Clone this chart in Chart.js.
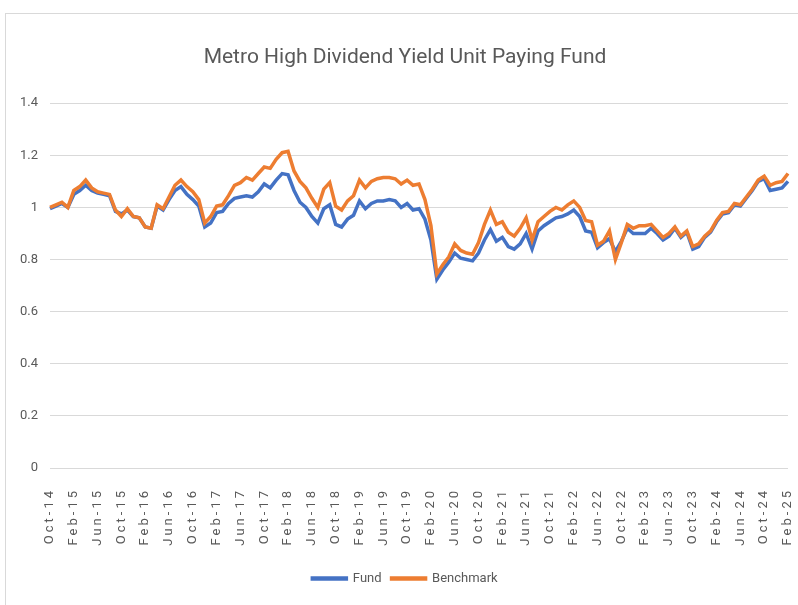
<!DOCTYPE html>
<html lang="en">
<head>
<meta charset="UTF-8">
<title>Metro High Dividend Yield Unit Paying Fund</title>
<style>
    html, body { margin: 0; padding: 0; background: #fff; overflow: hidden; }
    .frame { position: absolute; left: 5px; top: 13px; width: 820px; height: 620px; border: 1px solid #d9d9d9; }
    .wrap { position: absolute; left: 0; top: 0; width: 798px; height: 605px; }
</style>
</head>
<body>
<div class="frame"></div>
<div class="wrap"><canvas id="myChart"></canvas></div>

<script src="https://cdn.jsdelivr.net/npm/chart.js@4.4.1/dist/chart.umd.min.js"></script>
<script>
    // monthly values, Oct-14 .. Feb-25
    var startYear = 2014;
    var startMonth = 9;
    var monthNames = ['Jan','Feb','Mar','Apr','May','Jun','Jul','Aug','Sep','Oct','Nov','Dec'];

    var fund = [
        0.995, 1.005, 1.015, 1.00, 1.05, 1.065, 1.085, 1.065, 1.055, 1.05,
        1.045, 0.985, 0.975, 0.99, 0.965, 0.96, 0.925, 0.92, 1.005, 0.99,
        1.03, 1.065, 1.08, 1.05, 1.03, 1.005, 0.925, 0.94, 0.98, 0.985,
        1.015, 1.035, 1.04, 1.045, 1.04, 1.06, 1.09, 1.075, 1.105, 1.13,
        1.125, 1.065, 1.02, 1.00, 0.965, 0.94, 0.995, 1.01, 0.935, 0.925,
        0.955, 0.97, 1.025, 0.995, 1.015, 1.025, 1.025, 1.03, 1.025, 1.00,
        1.015, 0.99, 0.995, 0.955, 0.875, 0.725, 0.76, 0.79, 0.825, 0.805,
        0.80, 0.795, 0.825, 0.875, 0.915, 0.87, 0.885, 0.85, 0.84, 0.86,
        0.90, 0.84, 0.91, 0.93, 0.945, 0.96, 0.965, 0.975, 0.99, 0.965,
        0.91, 0.905, 0.845, 0.865, 0.88, 0.83, 0.87, 0.92, 0.90, 0.90,
        0.90, 0.92, 0.90, 0.875, 0.89, 0.92, 0.885, 0.905, 0.84, 0.85,
        0.885, 0.905, 0.945, 0.975, 0.98, 1.01, 1.005, 1.035, 1.065, 1.10,
        1.11, 1.065, 1.07, 1.075, 1.10
    ];

    var benchmark = [
        1.00, 1.01, 1.02, 1.00, 1.065, 1.08, 1.105, 1.075, 1.06, 1.055,
        1.05, 0.99, 0.965, 0.995, 0.965, 0.96, 0.925, 0.92, 1.01, 0.995,
        1.04, 1.085, 1.105, 1.08, 1.06, 1.03, 0.94, 0.965, 1.005, 1.01,
        1.045, 1.085, 1.095, 1.115, 1.105, 1.13, 1.155, 1.15, 1.185, 1.21,
        1.215, 1.14, 1.10, 1.075, 1.035, 1.00, 1.07, 1.095, 1.005, 0.99,
        1.025, 1.045, 1.105, 1.075, 1.10, 1.11, 1.115, 1.115, 1.11, 1.09,
        1.105, 1.085, 1.09, 1.03, 0.93, 0.745, 0.78, 0.81, 0.86, 0.835,
        0.825, 0.82, 0.865, 0.935, 0.99, 0.935, 0.945, 0.905, 0.89, 0.92,
        0.96, 0.875, 0.945, 0.965, 0.985, 1.00, 0.99, 1.01, 1.025, 1.00,
        0.95, 0.945, 0.855, 0.87, 0.91, 0.80, 0.865, 0.935, 0.92, 0.93,
        0.93, 0.935, 0.91, 0.885, 0.90, 0.925, 0.89, 0.91, 0.85, 0.86,
        0.89, 0.91, 0.95, 0.98, 0.985, 1.015, 1.01, 1.04, 1.07, 1.105,
        1.12, 1.085, 1.095, 1.10, 1.13
    ];

    var labels = [];
    for (var i = 0; i < fund.length; i++) {
        var m = (startMonth + i) % 12;
        var yr = startYear + Math.floor((startMonth + i) / 12);
        labels.push(monthNames[m] + '-' + String(yr).slice(2));
    }

    var grey = '#595959';

    // spaced-out date labels like the excel export, title/legend nudged right
    var tweaks = {
        id: 'tweaks',
        afterLayout: function(chart) {
            if (chart.titleBlock) chart.titleBlock.left = 22;
            if (chart.legend) chart.legend.left = 22;
            var s = chart.scales.x;
            if (!s || s._spaced) return;
            var orig = s.drawLabels.bind(s);
            s.drawLabels = function(area) {
                var c = chart.ctx;
                c.save();
                c.letterSpacing = '3px';
                orig(area);
                c.restore();
            };
            s._spaced = true;
        }
    };

    var ctx = document.getElementById('myChart').getContext('2d');
    var myChart = new Chart(ctx, {
        type: 'line',
        data: {
            labels: labels,
            datasets: [
                {
                    label: 'Fund',
                    data: fund,
                    borderColor: '#4472C4',
                    backgroundColor: '#4472C4',
                    borderWidth: 3.5,
                    pointRadius: 0,
                    order: 1
                },
                {
                    label: 'Benchmark',
                    data: benchmark,
                    borderColor: '#ED7D31',
                    backgroundColor: '#ED7D31',
                    borderWidth: 3.5,
                    pointRadius: 0,
                    order: 0
                }
            ]
        },
        options: {
            responsive: true,
            maintainAspectRatio: false,
            animation: false,
            layout: { padding: { left: 0, right: 10, top: 0, bottom: 10 } },
            plugins: {
                title: {
                    display: true,
                    text: 'Metro High Dividend Yield Unit Paying Fund',
                    color: grey,
                    font: { family: 'Roboto', size: 21, weight: 'normal' },
                    padding: { top: 45, bottom: 33 }
                },
                legend: {
                    position: 'bottom',
                    labels: {
                        color: grey,
                        font: { family: 'Roboto', size: 13 },
                        boxWidth: 34,
                        boxHeight: 1,
                        padding: 10,
                        sort: function(a, b) { return a.datasetIndex - b.datasetIndex; }
                    }
                },
                tooltip: { enabled: false }
            },
            scales: {
                x: {
                    grid: { display: false },
                    border: { display: false },
                    ticks: {
                        autoSkip: false,
                        maxRotation: 90,
                        minRotation: 90,
                        padding: 12,
                        color: grey,
                        font: { family: 'Roboto', size: 13 },
                        callback: function(v, idx) {
                            return idx % 4 === 0 ? this.getLabelForValue(v) : null;
                        }
                    },
                    afterFit: function(s) {
                        s.height = 94;
                        s.paddingLeft = 0;
                        s.paddingRight = 0;
                    }
                },
                y: {
                    min: 0,
                    max: 1.4,
                    ticks: {
                        stepSize: 0.2,
                        padding: 12,
                        color: grey,
                        font: { family: 'Roboto', size: 13 },
                        callback: function(v) { return String(Number(v.toFixed(1))); }
                    },
                    grid: { color: '#d9d9d9', drawTicks: false },
                    border: { display: false },
                    afterFit: function(s) { s.width = 50; }
                }
            }
        },
        plugins: [tweaks]
    });
</script>
</body>
</html>
